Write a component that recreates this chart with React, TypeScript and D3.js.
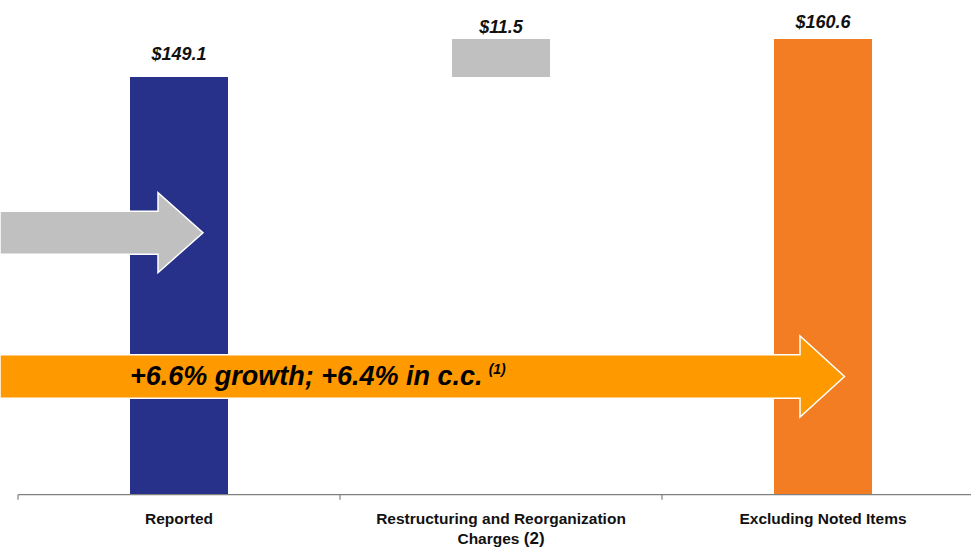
import React from "react";
import * as d3 from "d3";

const categories = ["Reported", "Restructuring and Reorganization Charges (2)", "Excluding Noted Items"];
const labelLines = [["Reported"], ["Restructuring and Reorganization", "Charges "], ["Excluding Noted Items"]];
const labelNotes = ["", "(2)", ""];
const barStarts = [22.7, 149.1, 22.7];
const barEnds = [149.1, 160.6, 160.6];
const valueLabels = ["$149.1", "$11.5", "$160.6"];
const barColors = ["#283189", "#C0C0C0", "#F37D22"];
const growthText = "+6.6% growth; +6.4% in c.c.";
const growthNote = "(1)";

const W = 971;
const H = 547;
const FONT = "Arial, 'Liberation Sans', sans-serif";

export default function App() {
  const x = d3
    .scaleBand<string>()
    .domain(categories)
    .range([18, 984])
    .paddingInner(0.6957)
    .paddingOuter(0.6957 / 2);
  const y = d3.scaleLinear().domain([22.7, 160.6]).range([494.7, 39]);
  const step = x.step();
  const labelOffsets = [17, 6, 11];

  const c0 = (x(categories[0]) ?? 0) + x.bandwidth() / 2;
  const c2 = (x(categories[2]) ?? 0) + x.bandwidth() / 2;

  const ga = { x0: 0, tip: c0 + 24, cy: 232.7, shaftH: 43, headBase: c0 - 21, headH: 80 };
  const grayArrow = `M${ga.x0},${ga.cy - ga.shaftH / 2} L${ga.headBase},${ga.cy - ga.shaftH / 2} L${ga.headBase},${ga.cy - ga.headH / 2} L${ga.tip},${ga.cy} L${ga.headBase},${ga.cy + ga.headH / 2} L${ga.headBase},${ga.cy + ga.shaftH / 2} L${ga.x0},${ga.cy + ga.shaftH / 2} Z`;
  const oa = { x0: 0, tip: c2 + 21.5, cy: 376.5, shaftH: 43.5, headBase: c2 - 23, headH: 81 };
  const orangeArrow = `M${oa.x0},${oa.cy - oa.shaftH / 2} L${oa.headBase},${oa.cy - oa.shaftH / 2} L${oa.headBase},${oa.cy - oa.headH / 2} L${oa.tip},${oa.cy} L${oa.headBase},${oa.cy + oa.headH / 2} L${oa.headBase},${oa.cy + oa.shaftH / 2} L${oa.x0},${oa.cy + oa.shaftH / 2} Z`;

  const axisY = y(22.7);

  return (
    <svg
      width={W}
      height={H}
      style={{ position: "absolute", left: 0, top: 0, background: "#fff" }}
      fontFamily={FONT}
    >
      <rect width={W} height={H} fill="#fff" />
      {categories.map((c, i) => (
        <rect
          key={c}
          x={x(c)}
          y={y(barEnds[i])}
          width={x.bandwidth()}
          height={y(barStarts[i]) - y(barEnds[i])}
          fill={barColors[i]}
        />
      ))}
      {categories.map((c, i) => (
        <text
          key={"v" + c}
          x={(x(c) ?? 0) + x.bandwidth() / 2}
          y={y(barEnds[i]) - labelOffsets[i]}
          textAnchor="middle"
          fontSize={18}
          fontWeight="bold"
          fontStyle="italic"
          fill="#111"
        >
          {valueLabels[i]}
        </text>
      ))}
      <path d={grayArrow} fill="#C0C0C0" stroke="#fff" strokeWidth={1.5} />
      <path d={orangeArrow} fill="#FF9900" stroke="#fff" strokeWidth={1.5} />
      <text x={130} y={385} fontSize={27} fontWeight="bold" fontStyle="italic" fill="#000">
        {growthText}
        <tspan dx={6} dy={-11} fontSize={14}>
          {growthNote}
        </tspan>
      </text>
      <line x1={18} x2={W} y1={axisY} y2={axisY} stroke="#808080" strokeWidth={1.2} />
      {[0, 1, 2, 3].map((k) => (
        <line key={k} x1={18 + k * step} x2={18 + k * step} y1={axisY} y2={axisY + 5} stroke="#808080" strokeWidth={1.2} />
      ))}
      {categories.map((c, i) => {
        const cx = (x(c) ?? 0) + x.bandwidth() / 2;
        const lines = labelLines[i];
        return (
          <text key={"l" + c} y={523.5} textAnchor="middle" fontSize={15.5} fontWeight="bold" fill="#111">
            {lines.map((ln, j) => (
              <tspan key={j} x={cx} dy={j === 0 ? 0 : 20}>
                {ln}
                {j === lines.length - 1 && labelNotes[i] ? (
                  <tspan fontSize={17}>{labelNotes[i]}</tspan>
                ) : null}
              </tspan>
            ))}
          </text>
        );
      })}
    </svg>
  );
}
